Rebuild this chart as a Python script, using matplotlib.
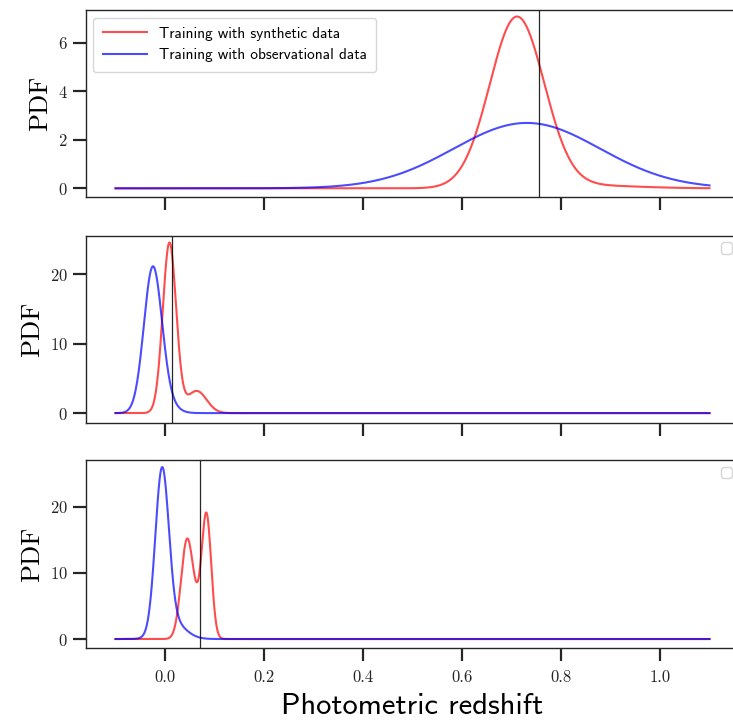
import numpy as np
import matplotlib
matplotlib.use("Agg")
import matplotlib.pyplot as plt

# Redshift grid on which the predicted PDFs are evaluated
z_min, z_max, n_grid = -0.1, 1.1, 1201

# Each PDF is a Gaussian mixture: (weights, means, sigmas)
syn_weights = [[0.97, 0.03], [0.83, 0.16], [0.42, 0.42, 0.12]]
syn_means = [[0.711, 0.85], [0.009, 0.064], [0.044, 0.084, 0.065]]
syn_sigmas = [[0.055, 0.1], [0.0135, 0.02], [0.012, 0.0095, 0.015]]

obs_weights = [[1.0], [0.9, 0.1], [0.82, 0.16]]
obs_means = [[0.731], [-0.025, -0.005], [-0.006, 0.015]]
obs_sigmas = [[0.148], [0.018, 0.022], [0.0135, 0.025]]

# Spectroscopic (true) redshift of each object
z_true = [0.7556, 0.014, 0.071]

y_ticks = [[0, 2, 4, 6], [0, 10, 20], [0, 10, 20]]
y_limits = [(-0.37, 7.35), (-1.4, 25.6), (-1.36, 27.1)]
x_ticks = [0.0, 0.2, 0.4, 0.6, 0.8, 1.0]

label_syn = "Training with synthetic data"
label_obs = "Training with observational data"


def mixture(z, w, m, s):
    w, m, s = map(np.asarray, (w, m, s))
    g = w[:, None] * np.exp(-0.5 * ((z[None, :] - m[:, None]) / s[:, None]) ** 2)
    return (g / (s[:, None] * np.sqrt(2 * np.pi))).sum(axis=0)


plt.rcParams.update({
    "font.family": "cmr10",
    "axes.formatter.use_mathtext": True,
    "mathtext.fontset": "cm",
    "axes.edgecolor": ".15",
    "axes.linewidth": 1.0,
    "xtick.color": ".15",
    "ytick.color": ".15",
    "xtick.major.size": 9.5,
    "ytick.major.size": 9.5,
    "xtick.major.width": 1.6,
    "ytick.major.width": 1.6,
    "xtick.labelsize": 12,
    "ytick.labelsize": 12,
    "xtick.major.pad": 6,
    "ytick.major.pad": 3.5,
})

W, H = 733, 721
fig = plt.figure(figsize=(W / 100, H / 100), dpi=100)

left = 85.8 / W
width = (739.2 - 85.8) / W
panels_px = [(10, 197.3), (235.5, 422.8), (460, 648)]

z = np.linspace(z_min, z_max, n_grid)

axes = []
for i, (top, bot) in enumerate(panels_px):
    ax = fig.add_axes([left, 1 - bot / H, width, (bot - top) / H])
    axes.append(ax)
    p_syn = mixture(z, syn_weights[i], syn_means[i], syn_sigmas[i])
    p_obs = mixture(z, obs_weights[i], obs_means[i], obs_sigmas[i])
    ax.plot(z, p_syn, color="red", alpha=0.7, lw=1.5, label=label_syn if i == 0 else None)
    ax.plot(z, p_obs, color="blue", alpha=0.7, lw=1.5, label=label_obs if i == 0 else None)
    ax.axvline(z_true[i], color="black", lw=0.9, alpha=0.85)

    ax.set_xlim(-0.16, 1.16)
    ax.set_ylim(*y_limits[i])
    ax.set_xticks(x_ticks)
    ax.set_yticks(y_ticks[i])
    ax.set_ylabel("PDF", fontsize=19, labelpad=4)
    if i < 2:
        ax.set_xticklabels([])
    else:
        ax.set_xticklabels([f"{t:.1f}" for t in x_ticks])
        ax.set_xlabel("Photometric redshift", fontsize=22, family="cmss10", labelpad=6)

    if i == 0:
        ax.legend(loc="upper left", prop={"family": "cmss10", "size": 11},
                  handlelength=2.9, borderpad=0.6, labelspacing=0.5)
    else:
        ax.legend(handles=[], loc="upper right")

fig.savefig("out.png", dpi=100)
